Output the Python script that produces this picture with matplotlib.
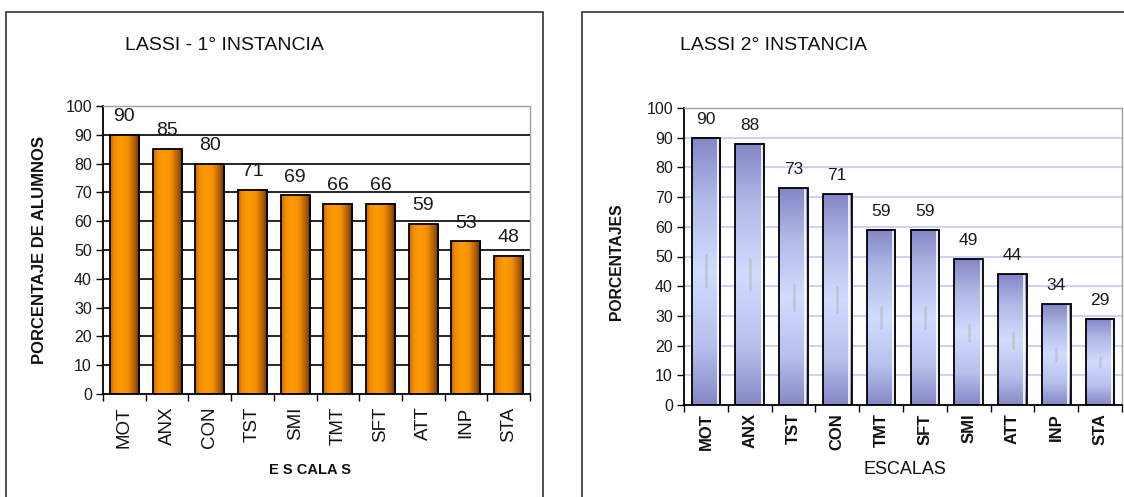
import numpy as np
import matplotlib
matplotlib.use("Agg")
import matplotlib.pyplot as plt
from matplotlib.colors import LinearSegmentedColormap
from matplotlib.patches import Rectangle

plt.rcParams['font.family'] = ['Liberation Sans', 'DejaVu Sans']

cats1 = ["MOT", "ANX", "CON", "TST", "SMI", "TMT", "SFT", "ATT", "INP", "STA"]
vals1 = [90, 85, 80, 71, 69, 66, 66, 59, 53, 48]
cats2 = ["MOT", "ANX", "TST", "CON", "TMT", "SFT", "SMI", "ATT", "INP", "STA"]
vals2 = [90, 88, 73, 71, 59, 59, 49, 44, 34, 29]
yticks = [0, 10, 20, 30, 40, 50, 60, 70, 80, 90, 100]

W, H = 1124, 497
fig = plt.figure(figsize=(W / 100, H / 100), dpi=100)
fig.patch.set_facecolor('white')


def px_axes(x0, y0, x1, y1):
    return fig.add_axes([x0 / W, 1 - y1 / H, (x1 - x0) / W, (y1 - y0) / H])


# outer frames
fig.add_artist(Rectangle((6 / W, -0.05), (543 - 6) / W, 1.05 - 12 / H,
                         transform=fig.transFigure, fill=False, lw=1.2, ec='#333333'))
fig.add_artist(Rectangle((582 / W, -0.05), (1130 - 582) / W, 1.05 - 12 / H,
                         transform=fig.transFigure, fill=False, lw=1.2, ec='#333333'))

orange = LinearSegmentedColormap.from_list(
    'orng', [(0, '#b86400'), (0.12, '#f08c00'), (0.35, '#ff9a08'),
             (0.6, '#f59000'), (0.85, '#a85a00'), (1, '#5a3000')])
blue = LinearSegmentedColormap.from_list(
    'blu', [(0, '#8486c6'), (0.22, '#b0b8e6'), (0.5, '#d2dcff'),
            (0.78, '#b8c0ec'), (1, '#8688c6')])


def style_axes(ax, n, grid_color, grid_lw, xtick_size, xtick_weight, xpad):
    ax.set_xlim(-0.5, n - 0.5)
    ax.set_ylim(0, 100)
    ax.set_yticks(yticks)
    ax.set_xticks(np.arange(n))
    ax.set_xticks(np.arange(n + 1) - 0.5, minor=True)
    ax.tick_params(axis='x', which='major', length=0, pad=xpad)
    ax.tick_params(axis='x', which='minor', length=5, width=1, color='black', direction='out')
    ax.tick_params(axis='y', length=5, width=1, direction='out', labelsize=11.5, pad=3,
                   labelcolor='#1a1a1a')
    for s in ['top', 'right']:
        ax.spines[s].set_color('#a0a0a0')
        ax.spines[s].set_linewidth(1)
    for s in ['left', 'bottom']:
        ax.spines[s].set_color('black')
        ax.spines[s].set_linewidth(1.3)
    for y in yticks[1:-1]:
        ax.axhline(y, color=grid_color, lw=grid_lw, zorder=0.5)
    for lab in ax.get_xticklabels():
        lab.set_rotation(90)
        lab.set_fontsize(xtick_size)
        lab.set_fontweight(xtick_weight)
        lab.set_color('#111111')


# ---------------- left chart ----------------
ax1 = px_axes(103, 106, 530, 394)
bw1 = 0.68
bars1 = ax1.bar(np.arange(len(vals1)), vals1, width=bw1, color='none',
                edgecolor='black', lw=1.3, zorder=3)
grad_h = np.linspace(0, 1, 64).reshape(1, -1)
for b in bars1:
    x0, w, h = b.get_x(), b.get_width(), b.get_height()
    ax1.imshow(grad_h, cmap=orange, aspect='auto', extent=(x0, x0 + w, 0, h),
               zorder=2, interpolation='bicubic')
ax1.set_xticklabels(cats1)
style_axes(ax1, len(vals1), 'black', 1.2, 13.5, 'normal', 9)
ax1.set_xlim(-0.5, len(vals1) - 0.5)
ax1.set_ylim(0, 100)
for i, v in enumerate(vals1):
    ax1.annotate(str(v), (i, v), xytext=(0, 7), textcoords='offset points',
                 ha='center', va='bottom', fontsize=14, color='#1a1a1a', zorder=4)
fig.text(40 / W, 1 - 250 / H, 'PORCENTAJE DE ALUMNOS', rotation=90, ha='center',
         va='center', fontsize=12, fontweight='bold', color='#111111')
fig.text(310 / W, 1 - 470 / H, 'E S CALA S', ha='center', va='center',
         fontsize=10.5, fontweight='bold', color='#111111')
fig.text(125 / W, 1 - 46 / H, 'LASSI - 1° INSTANCIA', ha='left', va='center', fontsize=14,
         color='#111111')

# ---------------- right chart ----------------
ax2 = px_axes(684, 108, 1122, 405)
bw2 = 0.65
bars2 = ax2.bar(np.arange(len(vals2)), vals2, width=bw2, color='none',
                edgecolor='black', lw=1.3, zorder=3)
grad_v = np.linspace(0, 1, 128).reshape(-1, 1)
for b in bars2:
    x0, w, h = b.get_x(), b.get_width(), b.get_height()
    ax2.imshow(grad_v, cmap=blue, aspect='auto', extent=(x0, x0 + w, 0, h),
               zorder=2, interpolation='bicubic')
    ax2.plot([x0 + w * 0.92, x0 + w * 0.92], [0.5, h - 0.5], color='white', lw=1.2, zorder=2.5)
    ax2.plot([x0 + w * 0.5, x0 + w * 0.5], [h * 0.44, h * 0.56], color='#a4b4a2',
             lw=1.8, alpha=0.45, zorder=2.5, solid_capstyle='round')
ax2.set_xticklabels(cats2)
style_axes(ax2, len(vals2), '#c4c8f4', 1.2, 12, 'bold', 6)
ax2.set_xlim(-0.5, len(vals2) - 0.5)
ax2.set_ylim(0, 100)
for i, v in enumerate(vals2):
    ax2.annotate(str(v), (i, v), xytext=(0, 8), textcoords='offset points',
                 ha='center', va='bottom', fontsize=12.5, color='#1a1a1a', zorder=4)
fig.text(617 / W, 1 - 262 / H, 'PORCENTAJES', rotation=90, ha='center', va='center',
         fontsize=11.3, fontweight='bold', color='#111111')
fig.text(905 / W, 1 - 470 / H, 'ESCALAS', ha='center', va='center', fontsize=13,
         color='#111111')
fig.text(680 / W, 1 - 46 / H, 'LASSI 2° INSTANCIA', ha='left', va='center', fontsize=14,
         color='#111111')

fig.savefig('out.png', dpi=100, facecolor='white')
